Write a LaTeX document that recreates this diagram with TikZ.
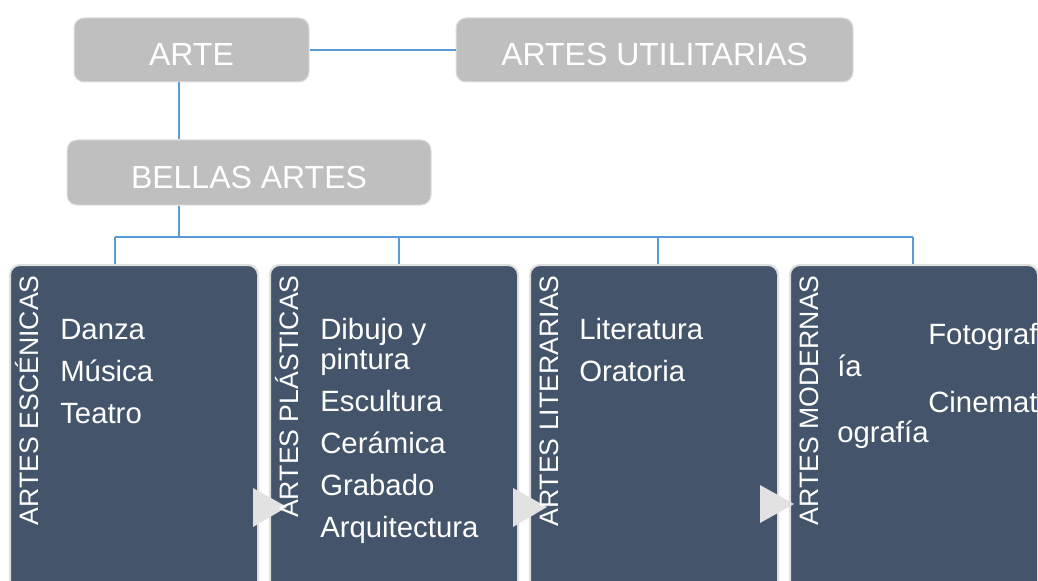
\documentclass[tikz,border=0pt]{standalone}
\usepackage{fontspec}
\setmainfont{Liberation Sans}
\usetikzlibrary{positioning}
\definecolor{boxgray}{RGB}{191,191,191}
\definecolor{slate}{RGB}{68,84,106}
\definecolor{rim}{RGB}{222,222,222}
\definecolor{linkblue}{RGB}{91,155,213}
\definecolor{arrowgray}{RGB}{226,226,226}

\begin{document}
\begin{tikzpicture}[x=0.75pt, y=-0.75pt,
  topbox/.style={rectangle, rounded corners=7.5pt, fill=boxgray, draw=rim, line width=0.75pt, text=white, font=\fontsize{24}{28}\selectfont, text height=24pt, text depth=0pt, minimum height=48pt},
  groupbox/.style={rectangle, rounded corners=7.5pt, fill=slate, draw=rim, line width=1.5pt, minimum width=186pt, minimum height=247.5pt},
  grouplabel/.style={rotate=90, anchor=base east, inner sep=0pt, text=white, font=\fontsize{20}{24}\selectfont},
  itemtext/.style={anchor=base west, inner sep=0pt, text=white, font=\fontsize{22}{26}\selectfont},
  link/.style={draw=linkblue, line width=1pt},
  pointer/.style={fill=arrowgray}]

\useasboundingbox (0,0) rectangle (1038,581);
\clip (0,0) rectangle (1038,581);

% top level
\node[topbox, minimum width=176.25pt] (arte) at (191.5,50) {ARTE};
\node[topbox, minimum width=297.75pt] (utilitarias) at (654.5,50) {ARTES UTILITARIAS};
\node[topbox, minimum width=273pt, minimum height=48.75pt] (bellas) at (249,172.5) {BELLAS ARTES};

% groups
\node[groupbox] (escenicas) at (134,430) {};
\node[groupbox] (plasticas) at (394,430) {};
\node[groupbox] (literarias) at (654,430) {};
\node[groupbox] (modernas) at (914,430) {};

\coordinate (trunk) at (179,237);
\coordinate (b1) at (115,237);
\coordinate (b2) at (399,237);
\coordinate (b3) at (658,237);
\coordinate (b4) at (913,237);

\draw[link] (arte.east) -- (utilitarias.west);
\draw[link] (arte.south -| trunk) -- (bellas.north -| trunk);
\draw[link] (bellas.south -| trunk) -- (trunk);
\draw[link] (b1) -- (b4);
\draw[link] (b1) -- (b1 |- escenicas.north);
\draw[link] (b2) -- (b2 |- plasticas.north);
\draw[link] (b3) -- (b3 |- literarias.north);
\draw[link] (b4) -- (b4 |- modernas.north);

\fill[pointer] (253,488) -- (287,507) -- (253,527) -- cycle;
\fill[pointer] (513,488) -- (547,507) -- (513,527) -- cycle;
\fill[pointer] (760,485) -- (794,504) -- (760,523) -- cycle;

% group titles
\node[grouplabel] (escenicas-t) at (38,275) {ARTES ESCÉNICAS};
\node[grouplabel] (plasticas-t) at (298,275) {ARTES PLÁSTICAS};
\node[grouplabel] (literarias-t) at (558,275) {ARTES LITERARIAS};
\node[grouplabel] (modernas-t) at (818,275) {ARTES MODERNAS};

% items
\node[itemtext] (danza) at (60,339) {Danza};
\node[itemtext] (musica) at (60,381) {Música};
\node[itemtext] (teatro) at (60,423) {Teatro};

\node[itemtext] (dibujo) at (320,339) {Dibujo y};
\node[itemtext] (pintura) at (320,369) {pintura};
\node[itemtext] (escultura) at (320,411) {Escultura};
\node[itemtext] (ceramica) at (320,453) {Cerámica};
\node[itemtext] (grabado) at (320,495) {Grabado};
\node[itemtext] (arquitectura) at (320,537) {Arquitectura};

\node[itemtext] (literatura) at (579,339) {Literatura};
\node[itemtext] (oratoria) at (579,381) {Oratoria};

\node[itemtext] (foto-a) at (928,344) {Fotograf};
\node[itemtext] (foto-b) at (837,376) {ía};
\node[itemtext] (cine-a) at (928,412) {Cinemat};
\node[itemtext] (cine-b) at (837,442) {ografía};

\end{tikzpicture}
\end{document}
